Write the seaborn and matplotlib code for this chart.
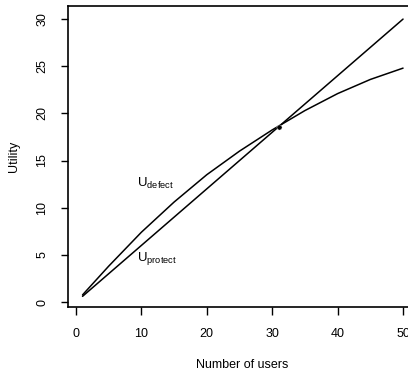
import pandas as pd
import matplotlib.pyplot as plt
import seaborn as sns

# values
users = [1, 5, 10, 15, 20, 25, 30, 35, 40, 45, 50]
u_defect = [0.75, 3.8, 7.4, 10.6, 13.5, 16.0, 18.25, 20.3, 22.1, 23.6, 24.8]
u_protect = [0.6, 3.0, 6.0, 9.0, 12.0, 15.0, 18.0, 21.0, 24.0, 27.0, 30.0]
cross_x = [31]
cross_y = [18.6]

df = pd.DataFrame({
    'users': users * 2,
    'utility': u_defect + u_protect,
    'curve': ['defect'] * len(users) + ['protect'] * len(users),
})

sns.set_style('ticks')
plt.rcParams['font.family'] = ['Liberation Sans', 'DejaVu Sans']
plt.rcParams['mathtext.fontset'] = 'custom'
plt.rcParams['mathtext.rm'] = 'Liberation Sans'
plt.rcParams['mathtext.it'] = 'Liberation Sans'
for key in ['text.color', 'axes.labelcolor', 'xtick.color', 'ytick.color']:
    plt.rcParams[key] = 'black'

fig = plt.figure(figsize=(4.08, 3.72), dpi=100)
ax = fig.add_axes([68 / 408, 1 - 307 / 372, 348 / 408, (307 - 5.7) / 372])

sns.lineplot(data=df, x='users', y='utility', hue='curve',
             palette=['black', 'black'], legend=False, linewidth=1.1, ax=ax)
sns.scatterplot(x=cross_x, y=cross_y, color='black', s=14, ax=ax, zorder=3)

ax.text(9.4, 12.6, r'U$_{\mathrm{defect}}$', fontsize=9.5, va='center', ha='left')
ax.text(9.4, 4.6, r'U$_{\mathrm{protect}}$', fontsize=9.5, va='center', ha='left')

ax.set_xlim(-1.22, 51.98)
ax.set_ylim(-0.53, 31.42)
ax.set_xticks([0, 10, 20, 30, 40, 50])
ax.set_yticks([0, 5, 10, 15, 20, 25, 30])
ax.tick_params(axis='x', direction='out', length=6, width=1, pad=9, labelsize=9)
ax.tick_params(axis='y', direction='out', length=5, width=1, pad=9, labelsize=9)
for lab in ax.get_yticklabels():
    lab.set_rotation(90)
    lab.set_va('center')

ax.set_xlabel('Number of users', fontsize=9, labelpad=14)
ax.set_ylabel('Utility', fontsize=9, labelpad=12)

for side in ['left', 'bottom', 'top', 'right']:
    ax.spines[side].set_color('black')
    ax.spines[side].set_linewidth(1.2)

fig.savefig('out.png', dpi=100)
